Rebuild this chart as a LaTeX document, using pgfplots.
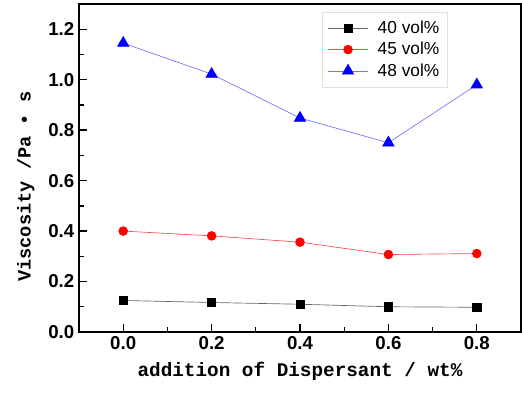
\documentclass[border=0pt]{standalone}
\usepackage{pgfplots}
\pgfplotsset{compat=1.18}
\usepackage{fontspec}
\setmainfont{Liberation Sans}
\newfontfamily\labfont{Liberation Mono}
\begin{document}
\begin{tikzpicture}
\begin{axis}[
  name=ax,
  scale only axis,
  width=331.5pt, height=246pt,
  xmin=-0.1, xmax=0.9, ymin=0, ymax=1.3,
  xtick={0,0.2,0.4,0.6,0.8}, ytick={0,0.2,0.4,0.6,0.8,1.0,1.2},
  minor xtick={-0.1,0.1,0.3,0.5,0.7,0.9},
  minor ytick={0.1,0.3,0.5,0.7,0.9,1.1},
  tick pos=left, tick align=inside,
  major tick length=6pt, minor tick length=3.5pt,
  every tick/.style={black, line width=1pt},
  axis line style={line width=1.5pt},
  /pgf/number format/assume math mode=true,
  xticklabel style={/pgf/number format/fixed, /pgf/number format/fixed zerofill, /pgf/number format/precision=1, font=\fontsize{14}{16}\selectfont\bfseries},
  yticklabel style={/pgf/number format/fixed, /pgf/number format/fixed zerofill, /pgf/number format/precision=1, font=\fontsize{14}{16}\selectfont\bfseries},
  xlabel={\labfont\bfseries addition of Dispersant / wt\%},
  ylabel={\labfont\bfseries Viscosity /Pa • s},
  xlabel style={yshift=-2pt, font=\fontsize{14.5}{16}\selectfont},
  ylabel style={yshift=3.5pt, xshift=-14pt, font=\fontsize{14}{16}\selectfont},
  legend style={at={(rel axis cs:0.55,0.975)}, anchor=north west, draw=black!12, font=\fontsize{13}{15}\selectfont, row sep=1pt, inner xsep=4pt, inner ysep=4.5pt},
  legend cell align=left,
  legend image code/.code={\draw[#1] (0pt,0pt) -- (30pt,0pt); \draw[#1, only marks] plot coordinates {(15pt,0pt)};},
]
\addplot[black!60, line width=0.5pt, mark=square*, mark size=3.1pt, mark options={fill=black, draw=black, solid}] coordinates {
(0.0,0.125) (0.2,0.117) (0.4,0.110) (0.6,0.100) (0.8,0.098)};
\addlegendentry{\hspace{5pt}40 vol\%}
\addplot[red!70, line width=0.5pt, mark=*, mark size=3.3pt, mark options={fill=red, draw=red, solid}] coordinates {
(0.0,0.400) (0.2,0.381) (0.4,0.356) (0.6,0.307) (0.8,0.311)};
\addlegendentry{\hspace{5pt}45 vol\%}
\addplot[blue!55, line width=0.5pt, mark=triangle*, mark size=4.9pt, mark options={fill=blue, draw=blue, solid}] coordinates {
(0.0,1.145) (0.2,1.022) (0.4,0.848) (0.6,0.750) (0.8,0.980)};
\addlegendentry{\hspace{5pt}48 vol\%}
\end{axis}
\pgfresetboundingbox
\path[use as bounding box] ([xshift=-59.25pt, yshift=-49.5pt]ax.south west) rectangle ([xshift=0.75pt, yshift=3pt]ax.north east);
\end{tikzpicture}
\end{document}
